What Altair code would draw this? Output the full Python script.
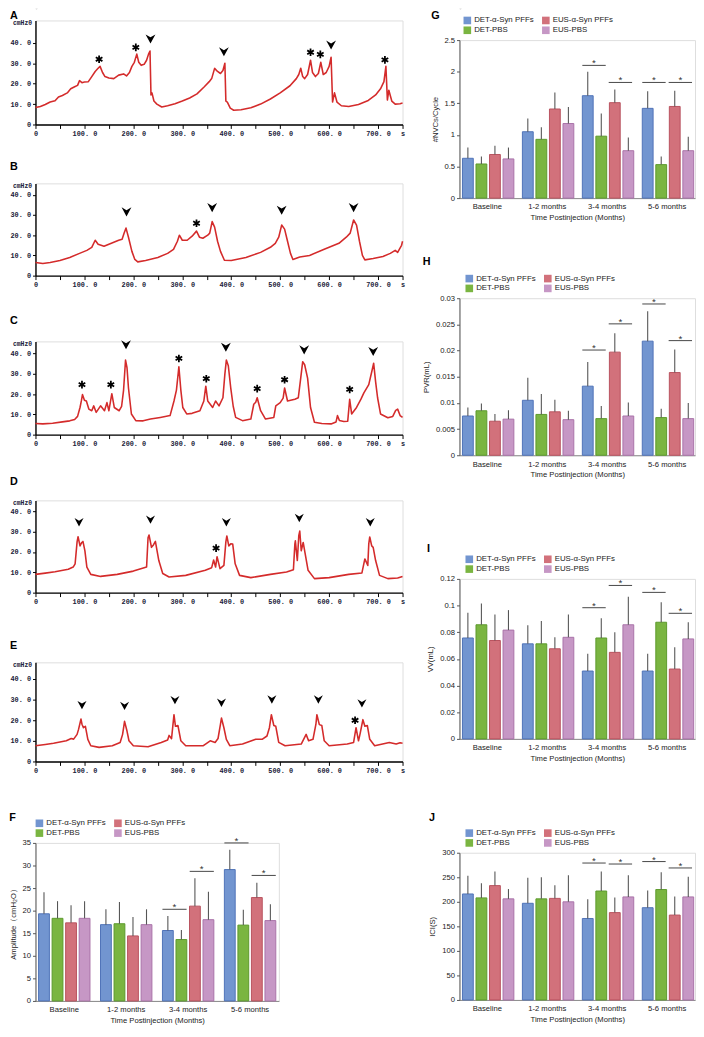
import altair as alt
import pandas as pd

# ----------------------------------------------------------------- traces (A-E)
A_t = [0, 10, 20, 30, 40, 47, 55, 65, 72, 80, 86, 90, 95, 100, 108, 115, 122, 127, 132, 137, 142, 150, 160,
       170, 180, 186, 192, 197, 202, 207, 211, 216, 222, 227, 231, 234, 236, 238, 242, 248, 258, 270, 285, 300,
       315, 330, 345, 355, 360, 366, 372, 378, 383, 387, 389, 392, 398, 405, 420, 440, 460, 480, 500, 520, 533,
       538, 542, 546, 550, 556, 562, 566, 572, 578, 583, 588, 594, 600, 604, 607, 611, 616, 625, 640, 660, 680,
       695, 705, 712, 716, 719, 722, 728, 735, 745, 750]
A_p = [8.3, 8.8, 9.8, 11, 11.6, 13.5, 14.2, 15.5, 17.5, 18.5, 19.2, 21.5, 20.5, 20.8, 21, 23.5, 26, 27.3, 28.5,
       25.5, 23.5, 22.8, 22.5, 24.2, 24.8, 23.8, 25.5, 28.5, 30.5, 34.5, 30.5, 29, 29.5, 31.5, 34.5, 36, 14.5,
       15.5, 11.5, 10, 8.6, 9.2, 10.2, 11.5, 13, 15, 18.5, 21, 22.5, 27.5, 26, 25, 26.5, 30, 11.5, 11, 8, 7, 7.2,
       8.2, 10, 12.5, 15.5, 19, 22.5, 24.5, 27.6, 23.5, 22.5, 24.5, 31.5, 25.5, 23.5, 25, 30.5, 24.5, 25.5, 28.5,
       33, 11, 15.5, 11, 9.2, 8.8, 9.8, 11.8, 14.5, 17.5, 21, 28.5, 12, 16.8, 11.5, 10, 10.2, 10.5]
A_arrow_t = [235, 385, 604]
A_arrow_p = [42, 35.7, 39]
A_star_t = [130, 205, 562, 582, 714]
A_star_p = [32, 37.8, 35.4, 34.4, 31.7]

B_t = [0, 15, 30, 50, 70, 90, 105, 115, 122, 128, 140, 155, 170, 177, 181, 185, 190, 197, 203, 209, 225, 250,
       270, 282, 290, 294, 300, 310, 320, 329, 335, 342, 352, 356, 361, 366, 372, 378, 386, 400, 430, 460, 480,
       490, 497, 503, 509, 515, 521, 526, 540, 560, 590, 620, 635, 643, 650, 656, 662, 668, 673, 690, 710, 725,
       735, 740, 748, 750]
B_p = [6.5, 6, 6.5, 7.5, 9, 11, 12.5, 14, 17.5, 15.5, 14.5, 16, 17.5, 18, 21, 23.5, 19, 12, 8, 6.8, 7.5, 9, 11,
       13, 17, 20, 17.5, 17.5, 19.5, 22, 19, 18.5, 20, 21, 26.7, 24, 17, 12, 7.6, 7.5, 9, 11.5, 14, 16, 19, 25,
       23, 17, 11, 8, 9.2, 10, 13, 16, 19, 21, 27.5, 25, 17, 10, 7.8, 8.5, 9.5, 11, 12.5, 11.5, 15, 17]
B_arrow_t = [186, 361, 503, 650]
B_arrow_p = [31.6, 33.7, 32.4, 33.7]
B_star_t = [329]
B_star_p = [25.9]

C_t = [0, 15, 35, 55, 70, 80, 86, 91, 94, 96, 100, 104, 109, 115, 119, 124, 133, 141, 146, 150, 156, 161, 171,
       176, 180, 184, 187, 190, 196, 205, 220, 235, 255, 275, 283, 288, 293, 297, 301, 309, 320, 336, 344, 348,
       352, 362, 368, 375, 383, 387, 390, 394, 399, 404, 409, 423, 440, 446, 450, 453, 460, 470, 487, 491, 500,
       506, 509, 515, 530, 537, 542, 546, 550, 556, 562, 570, 585, 604, 614, 617, 621, 630, 638, 642, 646, 656,
       665, 671, 681, 688, 691, 695, 699, 705, 720, 730, 736, 740, 745, 750]
C_p = [5.5, 5.3, 5.6, 6.3, 6.8, 7.5, 9, 13.4, 17, 19.8, 17, 16.6, 12.6, 11.8, 14.2, 11, 14.2, 11.8, 15.8, 11.8,
       20.2, 13.4, 11.8, 14, 22, 36.8, 33, 23, 10.2, 6.9, 6.8, 7.7, 8.5, 9.4, 16.6, 22, 33.5, 22, 13.4, 10.2,
       10.5, 11.8, 16.6, 23.9, 16.6, 13.4, 16.6, 14.2, 18.2, 30, 36.8, 34, 23, 14, 8.5, 6.9, 7.7, 15, 16, 18.2,
       11.8, 7.7, 8.5, 14.2, 15.8, 18, 23, 16.6, 17.5, 18.2, 28, 36, 34.5, 27.9, 13.4, 6.1, 5.5, 5.3, 6.2, 9.4,
       7, 6.5, 6.6, 17.4, 10.2, 13.4, 17.5, 20.6, 24.7, 32, 35.2, 26, 18.2, 10.2, 8.3, 9, 12, 12.6, 9.4, 8.5]
C_arrow_t = [185, 389, 549, 690]
C_arrow_p = [44.4, 43.2, 41.9, 41.1]
C_star_t = [95, 154, 293, 349, 453, 509, 642]
C_star_p = [24.7, 24.7, 37.6, 27.6, 22.7, 27.1, 22.3]

D_t = [0, 20, 40, 67, 77, 81, 85, 87, 91, 94, 97, 101, 105, 113, 133, 167, 200, 227, 230, 232, 237, 241, 245,
       252, 260, 273, 307, 347, 360, 364, 368, 371, 377, 385, 389, 391, 395, 399, 403, 408, 417, 440, 480, 513,
       527, 530, 531, 535, 538, 540, 543, 547, 550, 557, 570, 600, 640, 667, 673, 679, 681, 683, 687, 690, 695,
       703, 720, 740, 750]
D_p = [9, 9.6, 10.3, 11.5, 12.6, 14.2, 25, 27.5, 23, 24.5, 25.2, 20.6, 12.6, 9, 8, 9, 10.6, 12.6, 27, 28.4,
       22.3, 23.5, 25.2, 15.8, 9.4, 7.7, 8.5, 11, 12.3, 16.1, 12.6, 17.7, 11.8, 13.4, 25, 27.9, 23, 24, 23.9,
       14.2, 8.5, 7.4, 9, 10.2, 11.3, 24, 25.5, 15.8, 28, 30.3, 20.6, 24.7, 20.6, 11, 6.9, 7.4, 9, 9.7, 16.6,
       13.4, 24, 27.4, 23, 22.3, 15.8, 8.5, 6.9, 7.2, 8]
D_arrow_t = [89, 235, 390, 539, 684]
D_arrow_p = [34.7, 36, 34.7, 36.8, 34.7]
D_star_t = [369]
D_star_p = [21.9]

E_t = [0, 20, 37, 63, 73, 78, 85, 88, 93, 95, 98, 102, 107, 113, 130, 157, 173, 178, 182, 187, 191, 200, 230,
       257, 270, 273, 278, 283, 286, 291, 297, 307, 343, 357, 367, 373, 378, 380, 385, 390, 397, 423, 450, 463,
       473, 478, 482, 487, 491, 497, 510, 543, 553, 558, 567, 573, 575, 580, 585, 590, 600, 637, 650, 655, 660,
       663, 669, 673, 678, 683, 693, 723, 737, 745, 750]
E_p = [7.6, 8.2, 8.8, 10, 11.1, 10.8, 13.1, 15.5, 20.5, 18, 16.3, 17, 10.7, 7.6, 6.8, 7.6, 9.2, 13.1, 19.4, 14.7,
       10, 7.6, 7.1, 9.2, 10.4, 12.6, 11, 22.6, 17, 17.4, 10, 7.6, 7.6, 10, 9.2, 11.1, 18, 21, 16.3, 10.7, 7.6,
       8.4, 10.7, 10.7, 12.3, 16.3, 22.6, 17.4, 17, 9.2, 7.6, 8.4, 13.1, 10, 10.7, 18, 22.6, 17.8, 17.4, 10, 7.6,
       8.4, 9.2, 16.3, 10, 13.1, 20.2, 17, 17.4, 10.7, 7.6, 9.2, 8.4, 9, 8.8]
E_arrow_t = [95, 182, 285, 380, 483, 578, 667]
E_arrow_p = [27.3, 26.9, 29.7, 28.4, 30, 30, 28.1]
E_star_t = [653]
E_star_p = [19.9]

# ----------------------------------------------------------------- bar panels (F-J)
CATS = ["Baseline", "1-2 months", "3-4 months", "5-6 months"]
GROUPS = ["DET-α-Syn PFFs", "DET-PBS", "EUS-α-Syn PFFs", "EUS-PBS"]          # bar order
LEGEND_ORDER = ["DET-α-Syn PFFs", "EUS-α-Syn PFFs", "DET-PBS", "EUS-PBS"]    # legend order
FILLS = ["#7295d0", "#d2717b", "#7ab541", "#c697c5"]
STROKES = ["#4f72b8", "#b9525e", "#5c9a2c", "#a972a8"]

F_mean = [[19.3, 16.9, 15.6, 29.1], [18.3, 17.1, 13.6, 16.8], [17.3, 14.4, 21.0, 22.9], [18.3, 16.9, 18.0, 17.8]]
F_err = [[24.1, 20.3, 18.8, 33.5], [22.1, 21.9, 15.7, 20.2], [21.2, 18.6, 27.2, 26.2], [22.1, 20.3, 24.2, 21.4]]
F_sig_cat = ["3-4 months", "3-4 months", "5-6 months", "5-6 months"]
F_sig_side = ["L", "R", "L", "R"]
F_sig_y = [20.3, 28.7, 35.0, 27.8]

G_mean = [[0.63, 1.05, 1.62, 1.42], [0.54, 0.93, 0.98, 0.53], [0.69, 1.41, 1.51, 1.45], [0.62, 1.18, 0.75, 0.75]]
G_err = [[0.80, 1.26, 2.00, 1.69], [0.66, 1.12, 1.34, 0.66], [0.83, 1.67, 1.72, 1.70], [0.80, 1.44, 0.96, 0.97]]
G_sig_cat = ["3-4 months", "3-4 months", "5-6 months", "5-6 months"]
G_sig_side = ["L", "R", "L", "R"]
G_sig_y = [2.10, 1.83, 1.83, 1.83]

H_mean = [[0.0075, 0.0105, 0.0132, 0.0218], [0.0085, 0.0078, 0.0070, 0.0072],
          [0.0065, 0.0083, 0.0197, 0.0158], [0.0069, 0.0068, 0.0075, 0.0070]]
H_err = [[0.0091, 0.0148, 0.0178, 0.0275], [0.0099, 0.0117, 0.0094, 0.0089],
         [0.0079, 0.0106, 0.0233, 0.0202], [0.0086, 0.0085, 0.0101, 0.0100]]
H_sig_cat = ["3-4 months", "3-4 months", "5-6 months", "5-6 months"]
H_sig_side = ["L", "R", "L", "R"]
H_sig_y = [0.0201, 0.0251, 0.0289, 0.0219]

I_mean = [[0.0757, 0.0713, 0.0509, 0.0509], [0.0856, 0.0713, 0.0757, 0.0875],
          [0.0738, 0.0676, 0.0649, 0.0524], [0.0816, 0.0762, 0.0856, 0.0750]]
I_err = [[0.0947, 0.0853, 0.0639, 0.0639], [0.1016, 0.0885, 0.0905, 0.1025],
         [0.0934, 0.0762, 0.0799, 0.0688], [0.0966, 0.0934, 0.1067, 0.0875]]
I_sig_cat = ["3-4 months", "3-4 months", "5-6 months", "5-6 months"]
I_sig_side = ["L", "R", "L", "R"]
I_sig_y = [0.0984, 0.1151, 0.1099, 0.0942]

J_mean = [[216, 197, 166, 188], [208, 206, 222, 225], [233, 207, 178, 173], [206, 200, 210, 210]]
J_err = [[253, 249, 205, 223], [238, 250, 262, 260], [262, 234, 209, 211], [226, 254, 254, 251]]
J_sig_cat = ["3-4 months", "3-4 months", "5-6 months", "5-6 months"]
J_sig_side = ["L", "R", "L", "R"]
J_sig_y = [279, 277, 282, 269]

# ----------------------------------------------------------------- styling
RED = "#d42b2b"
TXT = "#202038"
ARROW = "M-1,-0.9L0,-0.3L1,-0.9L0,0.95Z"
STAR = "M0,-1L0,1M-0.87,-0.5L0.87,0.5M-0.87,0.5L0.87,-0.5"
SANS = "Liberation Sans"
MONO = "Liberation Mono"

X_TRACE = alt.Axis(
    values=list(range(0, 751, 50)),
    labelExpr="datum.value == 0 ? '0' : (datum.value == 750 ? 's' : "
              "(datum.value % 100 == 0 ? replace(format(datum.value, '.1f'), '.', '. ') : ''))",
    title=None, grid=False, tickSize=4, tickColor="black", domainColor="black", domainWidth=1.4,
    labelFont=MONO, labelFontSize=7, labelFontWeight="bold", labelColor=TXT, labelPadding=1,
    labelOverlap=False, labelFlush=False, labelBound=False)

Y_TRACE = alt.Axis(
    values=[0, 10, 20, 30, 40],
    labelExpr="datum.value == 0 ? '0' : replace(format(datum.value, '.1f'), '.', '. ')",
    title="cmHz0", titleAngle=0, titleAlign="right", titleBaseline="middle", titleX=-4, titleY=2,
    titleFont=MONO, titleFontSize=6.5, titleFontWeight="bold", titleColor=TXT,
    grid=False, tickSize=3, tickColor="black", domainColor="black", domainWidth=1.4,
    labelFont=MONO, labelFontSize=7, labelFontWeight="bold", labelColor=TXT, labelPadding=2)


def panel_title(letter, offset):
    return alt.TitleParams(letter, anchor="start", frame="bounds", fontSize=11, fontWeight="bold",
                           font=SANS, color="black", offset=offset)


def trace(letter, t, p, at, ap, st, sp, ymax, h, off, asize):
    x = alt.X("t:Q", scale=alt.Scale(domain=[0, 750], nice=False, zero=False), axis=X_TRACE)
    y = alt.Y("p:Q", scale=alt.Scale(domain=[0, ymax], nice=False), axis=Y_TRACE)
    line = alt.Chart(pd.DataFrame({"t": t, "p": p})).mark_line(
        color=RED, strokeWidth=1.6, strokeJoin="round").encode(x=x, y=y)
    arrows = alt.Chart(pd.DataFrame({"t": at, "p": ap})).mark_point(
        shape=ARROW, filled=True, color="black", size=asize, opacity=1).encode(x=x, y=y)
    stars = alt.Chart(pd.DataFrame({"t": st, "p": sp})).mark_point(
        shape=STAR, filled=False, color="black", strokeWidth=1.8, size=60, opacity=1).encode(x=x, y=y)
    return alt.layer(line, arrows, stars).properties(width=374, height=h, title=panel_title(letter, off))


def bars(letter, mean, err, sig_cat, sig_side, sig_y, ymax, ystep, ytitle, w, h, off, lx, ly):
    rows = []
    for gi, g in enumerate(GROUPS):
        for ci, c in enumerate(CATS):
            rows.append({"cat": c, "grp": g, "mean": mean[gi][ci], "err": err[gi][ci]})
    df = pd.DataFrame(rows)
    sig = pd.DataFrame({"cat": sig_cat, "side": sig_side, "mean": sig_y})

    xaxis = alt.Axis(title="Time Postinjection (Months)", labelAngle=0, ticks=False, domainColor="#8a8a8a",
                     labelFont=SANS, labelFontSize=7.8, labelColor="#222", labelPadding=5,
                     titleFont=SANS, titleFontSize=7.8, titleFontWeight="normal", titleColor="#222",
                     titlePadding=3)
    vals = [round(i * ystep, 6) for i in range(int(round(ymax / ystep)) + 1)]
    yaxis = alt.Axis(values=vals, labelExpr="toString(datum.value)", title=ytitle, grid=False, tickSize=3,
                     tickColor="#555", domainColor="#555", labelFont=SANS, labelFontSize=7.8,
                     labelColor="#222", titleFont=SANS, titleFontSize=7.8, titleFontWeight="normal",
                     titleColor="#222", titlePadding=5)
    xs = alt.Scale(paddingInner=0.17, paddingOuter=0.05)
    x = alt.X("cat:N", sort=CATS, scale=xs, axis=xaxis)
    xo = alt.XOffset("grp:N", sort=GROUPS, scale=alt.Scale(paddingInner=0.2, paddingOuter=0))
    y = alt.Y("mean:Q", scale=alt.Scale(domain=[0, ymax], nice=False), axis=yaxis)

    base = alt.Chart(df)
    b = base.mark_bar(strokeWidth=1).encode(
        x=x, xOffset=xo, y=y,
        color=alt.Color("grp:N", scale=alt.Scale(domain=LEGEND_ORDER, range=FILLS),
                        legend=alt.Legend(orient="none", legendX=lx, legendY=ly, columns=2,
                                          direction="horizontal", title=None, symbolType="square",
                                          symbolSize=60, symbolStrokeWidth=0, labelFont=SANS,
                                          labelFontSize=8, labelColor="#222", columnPadding=8,
                                          rowPadding=2, labelOffset=3, labelLimit=200)),
        stroke=alt.Stroke("grp:N", scale=alt.Scale(domain=LEGEND_ORDER, range=STROKES), legend=None))
    e = base.mark_rule(color="#555", strokeWidth=1.1).encode(x=x, xOffset=xo, y=y, y2="err:Q")

    layers = [b, e]
    for side, p0, p1, pm in [("L", 0.0, 0.47, 0.235), ("R", 0.53, 1.0, 0.765)]:
        sc = alt.Chart(sig).transform_filter(alt.datum.side == side)
        layers.append(sc.mark_rule(color="#444", strokeWidth=1).encode(
            x=alt.X("cat:N", sort=CATS, scale=xs, axis=xaxis, bandPosition=p0),
            x2=alt.X2("cat", bandPosition=p1), y=y))
        layers.append(sc.mark_text(text="*", font=SANS, fontSize=10, baseline="alphabetic", dy=1,
                                   color="#333").encode(
            x=alt.X("cat:N", sort=CATS, scale=xs, axis=xaxis, bandPosition=pm), y=y))
    return alt.layer(*layers).properties(width=w, height=h, title=panel_title(letter, off))


def spacer():
    return alt.Chart(pd.DataFrame({"v": [0]})).mark_rect(color="white", strokeOpacity=0).encode(
        x=alt.value(0), x2=alt.value(1), y=alt.value(0), y2=alt.value(1)).properties(width=1, height=1)


def stack(charts, gaps):
    out = charts[0]
    for c, g in zip(charts[1:], gaps):
        out = alt.vconcat(out, c, spacing=g).resolve_scale(color="independent", stroke="independent")
    return out


A = trace("A", A_t, A_p, A_arrow_t, A_arrow_p, A_star_t, A_star_p, 51, 106, -2, 100)
B = trace("B", B_t, B_p, B_arrow_t, B_arrow_p, B_star_t, B_star_p, 45.6, 94, 11, 100)
C = trace("C", C_t, C_p, C_arrow_t, C_arrow_p, C_star_t, C_star_p, 46, 95, 15, 100)
D = trace("D", D_t, D_p, D_arrow_t, D_arrow_p, D_star_t, D_star_p, 45.4, 94, 13, 85)
E = trace("E", E_t, E_p, E_arrow_t, E_arrow_p, E_star_t, E_star_p, 47.9, 101, 11, 85)
F = bars("F", F_mean, F_err, F_sig_cat, F_sig_side, F_sig_y, 35, 5, "Amplitude（cmH₂O）", 248, 161, -4, 0, -24)

G = bars("G", G_mean, G_err, G_sig_cat, G_sig_side, G_sig_y, 2.5, 0.5, "#NVCs/Cycle", 240, 161, -5, 4, -24)
H = bars("H", H_mean, H_err, H_sig_cat, H_sig_side, H_sig_y, 0.03, 0.005, "PVR(mL)", 240, 160, 8, 6, -24)
I = bars("I", I_mean, I_err, I_sig_cat, I_sig_side, I_sig_y, 0.12, 0.02, "VV(mL)", 240, 163, 1, 6, -24)
J = bars("J", J_mean, J_err, J_sig_cat, J_sig_side, J_sig_y, 300, 50, "ICI(S)", 240, 150, 6, 6, -24)

left = stack([spacer(), A, B, C, D, E, F], [0, 23, 26, 28, 34, 38])
right = stack([spacer(), G, H, I, J], [0, 33, 64, 49])

chart = alt.hconcat(left, right, spacing=16).resolve_scale(
    color="independent", stroke="independent").properties(
    padding={"left": 0, "top": -11, "right": 0, "bottom": 0}).configure_view(stroke=None).configure(
    background="white")

chart.save("out.html", embed_options={"renderer": "svg", "actions": False})
